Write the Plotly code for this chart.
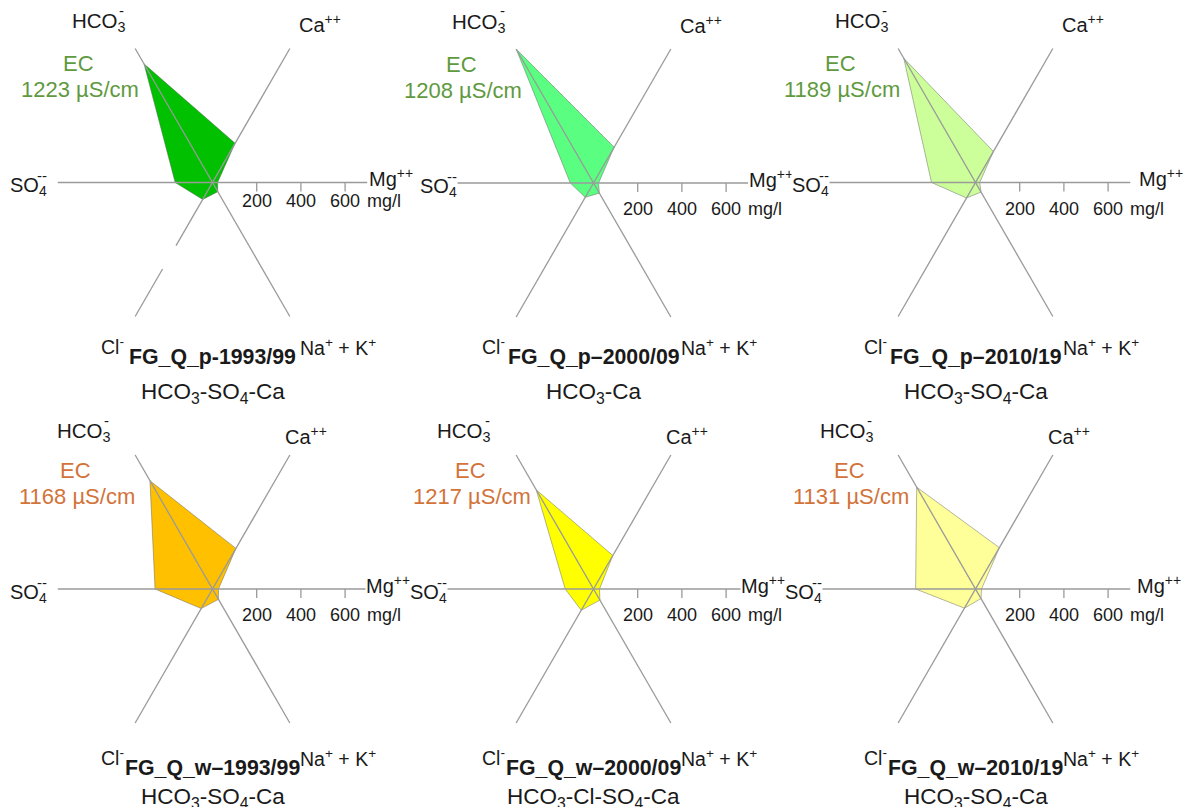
import numpy as np
import plotly.graph_objects as go

# ---------------- data (mg/l) ----------------
panel_names = ["FG_Q_p-1993/99", "FG_Q_p\u20132000/09", "FG_Q_p\u20132010/19",
               "FG_Q_w\u20131993/99", "FG_Q_w\u20132000/09", "FG_Q_w\u20132010/19"]
water_types = ["HCO<sub>3</sub>-SO<sub>4</sub>-Ca", "HCO<sub>3</sub>-Ca",
               "HCO<sub>3</sub>-SO<sub>4</sub>-Ca", "HCO<sub>3</sub>-SO<sub>4</sub>-Ca",
               "HCO<sub>3</sub>-Cl-SO<sub>4</sub>-Ca", "HCO<sub>3</sub>-SO<sub>4</sub>-Ca"]
ec_values = [1223, 1208, 1189, 1168, 1217, 1131]

mg = [23, 23, 19, 27, 27, 27]
ca = [205, 187, 162, 212, 175, 216]
hco3 = [620, 700, 649, 566, 518, 532]
so4 = [169, 105, 199, 260, 128, 271]
cl = [89, 75, 81, 102, 111, 100]
na_k = [48, 53, 50, 54, 58, 50]

ray_angles = [0, 60, 120, 180, 240, 300]   # Mg, Ca, HCO3, SO4, Cl, Na+K
tick_values = [200, 400, 600]
axis_max = 700

# ---------------- styling ----------------
fill_colors = ["#00c000", "#5aff82", "#ccff99", "#ffc000", "#ffff00", "#ffff99"]
ec_colors = ["#5f9a3f"] * 3 + ["#d2733a"] * 3
FONT = "Liberation Sans, Arial, sans-serif"
W, H = 1195, 807
S = 0.221  # px per mg/l
centers = [(212.5, 182.5), (593.5, 183), (975.5, 182.5),
           (212.5, 589), (593.5, 589), (975.5, 589)]
so4_right = [-164.5, -135, -145.5, -164.5, -145, -152.5]
mg_left = [155.5, 154.7, 162.5, 152.5, 146, 160.5]
ec_dx = [-134.5, -132, -135.5, -137.5, -123, -126.5]
tick_dy = [18, 26, 26, 26, 26, 26]
row_hco3 = [(-85, -163.5), (-100, -160)]
row_ca = [(84.5, -156), (70, -151)]
row_title = [174, 179]
row_sub = [208, 207]
axis_gap = {0: (330, 452)}  # blank stretch on the Cl- ray of first panel

fig = go.Figure()
annotations = []

for i in range(6):
    cx, cy = centers[i]
    row = i // 3
    top_px, bot_px = (0, 400) if row == 0 else (400, 807)
    sfx = "" if i == 0 else str(i + 1)
    xa, ya = "x" + sfx, "y" + sfx
    fig.update_layout(**{
        "xaxis" + sfx: dict(domain=[(cx - 190) / W, (cx + 190) / W],
                            range=[-190 / S, 190 / S], visible=False, fixedrange=True),
        "yaxis" + sfx: dict(domain=[1 - bot_px / H, 1 - top_px / H],
                            range=[-(bot_px - cy) / S, (cy - top_px) / S],
                            visible=False, fixedrange=True),
    })

    vals = [mg[i], ca[i], hco3[i], so4[i], cl[i], na_k[i]]
    th = np.deg2rad(ray_angles)
    px = list(np.array(vals) * np.cos(th)) + [vals[0] * np.cos(th[0])]
    py = list(np.array(vals) * np.sin(th)) + [vals[0] * np.sin(th[0])]
    fig.add_trace(go.Scatter(x=px, y=py, mode="lines", fill="toself",
                             fillcolor=fill_colors[i],
                             line=dict(color="rgba(90,90,90,0.45)", width=1),
                             hoverinfo="skip", showlegend=False, xaxis=xa, yaxis=ya))

    # axis rays
    lx, ly = [], []
    for a in [0, 60, 120]:
        t = np.deg2rad(a)
        c, s = np.cos(t), np.sin(t)
        if i in axis_gap and a == 60:
            g0, g1 = axis_gap[i]
            lx += [-axis_max * c, -g1 * c, None, -g0 * c, axis_max * c, None]
            ly += [-axis_max * s, -g1 * s, None, -g0 * s, axis_max * s, None]
        else:
            lx += [-axis_max * c, axis_max * c, None]
            ly += [-axis_max * s, axis_max * s, None]
    tl = 9 / S
    for tv in tick_values:
        lx += [tv, tv, None]
        ly += [0, -tl, None]
    fig.add_trace(go.Scatter(x=lx, y=ly, mode="lines",
                             line=dict(color="#9a9a9a", width=1.3),
                             hoverinfo="skip", showlegend=False, xaxis=xa, yaxis=ya))

    def ann(dx, dy, text, size, color="#1a1a1a", xanchor="center", yanchor="middle", bg=None):
        d = dict(x=dx / S, y=-dy / S, xref=xa, yref=ya, text=text, showarrow=False,
                 xanchor=xanchor, yanchor=yanchor,
                 font=dict(family=FONT, size=size, color=color))
        if bg:
            d["bgcolor"] = bg
            d["borderpad"] = 0
        annotations.append(d)

    # tick labels
    for tv in tick_values:
        ann(tv * S, tick_dy[i], str(tv), 18)
    ann(tick_values[-1] * S + 20, tick_dy[i], "mg/l", 18, xanchor="left")

    # ion labels
    hx, hy = row_hco3[row]
    ann(hx, hy + 3, "HCO<sub>3</sub>", 20.5, xanchor="right")
    ann(hx - 6, hy - 9, "-", 15, xanchor="center")
    cax, cay = row_ca[row]
    ann(cax, cay - 3, "Ca<sup>++</sup>", 20, xanchor="left")
    ann(so4_right[i], 4, "SO<sub>4</sub>", 20, xanchor="right", bg="white")
    ann(so4_right[i] - 6, -7, "--", 15, xanchor="center")
    ann(mg_left[i], -5, "Mg<sup>++</sup>", 20, xanchor="left", bg="white")
    ann(-86.5, row_title[row] - 11, "Cl<sup>-</sup>", 19.5, xanchor="right")
    ann(85, row_title[row] - 10, "Na<sup>+</sup> + K<sup>+</sup>", 19.5, xanchor="left")

    # titles
    ann(0, row_title[row], "<b>" + panel_names[i] + "</b>", 21.3)
    ann(0, row_sub[row] + 2, water_types[i], 22.5)

    # EC
    ann(ec_dx[i], -119, "EC", 22, color=ec_colors[i])
    ann(ec_dx[i] + 2, -93, f"{ec_values[i]} \u00b5S/cm", 22, color=ec_colors[i])

fig.update_layout(width=W, height=H, autosize=False,
                  margin=dict(l=0, r=0, t=0, b=0),
                  paper_bgcolor="white", plot_bgcolor="rgba(0,0,0,0)",
                  annotations=annotations, showlegend=False)

fig.write_html("out.html", config={"displayModeBar": False},
               post_script="document.body.style.margin='0';document.body.style.overflow='hidden';")
